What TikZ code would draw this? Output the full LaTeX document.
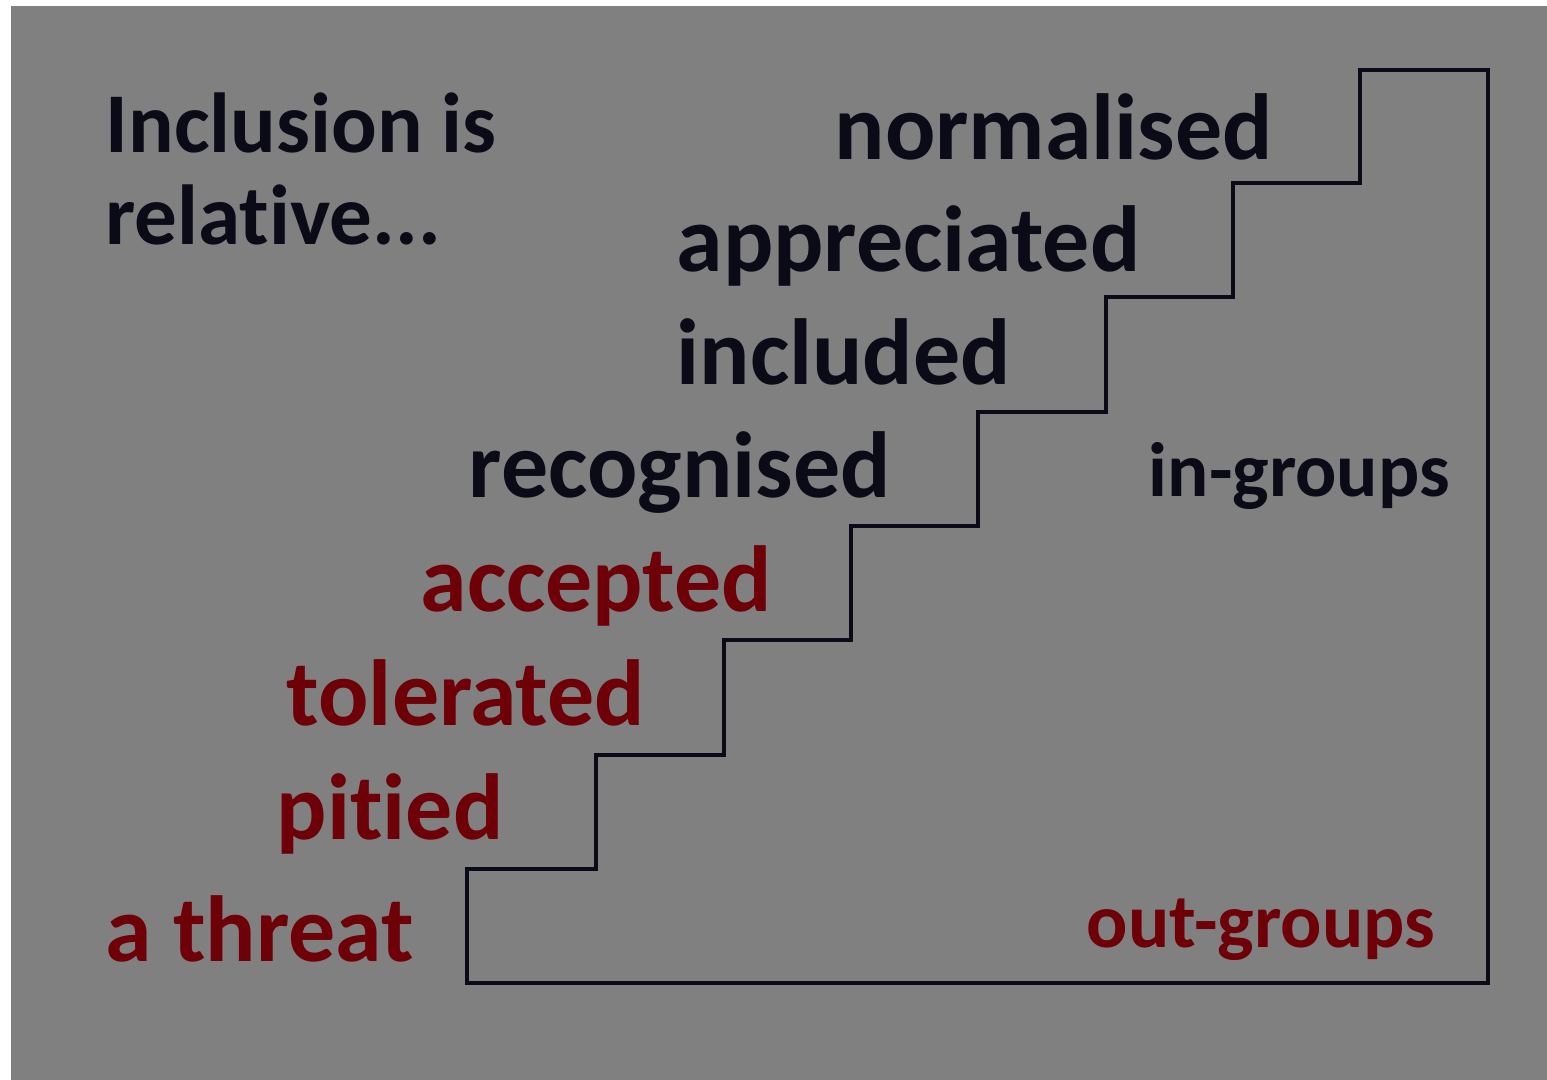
\documentclass[tikz,border=0pt]{standalone}
\usepackage{fontspec}
\setmainfont{Carlito}[Ligatures=NoCommon]
\definecolor{panel}{HTML}{808080}
\definecolor{ink}{HTML}{0B0B18}
\definecolor{outred}{HTML}{6E0008}
\tikzset{
  step label/.style={anchor=base west,inner sep=0pt,font=\fontsize{26.7}{32}\selectfont\bfseries},
  group label/.style={anchor=base west,inner sep=0pt,font=\fontsize{21.9}{26}\selectfont\bfseries},
}
\begin{document}
\begin{tikzpicture}[x=0.01cm,y=-0.01cm]
\useasboundingbox (0,0) rectangle (1547,1080);
\fill[white] (0,0) rectangle (1547,1080);
\fill[panel] (11,6) rectangle (1547,1080);

% the stairs
\coordinate (s0) at (467,983);
\coordinate (s1) at (1488,983);
\coordinate (s2) at (1488,70);
\coordinate (s3) at (1360,70);
\draw[ink,line width=1.1pt,line join=miter]
  (s3) -- (s2) -- (s1) -- (s0) -- (467,869) -- (596,869) -- (596,755)
  -- (724,755) -- (724,640) -- (851,640) -- (851,526) -- (978,526)
  -- (978,412) -- (1106,412) -- (1106,297) -- (1233,297) -- (1233,183)
  -- (1360,183) -- cycle;

% base anchor of a two-line node sits on its last line
\node[anchor=base west,inner sep=0pt,align=left,ink,
  font=\fontsize{24.2}{26.2}\selectfont\bfseries] (title) at (105,245)
  {Inclusion is\\relative...};

\node[step label,ink] (norm) at (834,160) {normalised};
\node[step label,ink] (appr) at (676,272) {appreciated};
\node[step label,ink] (incl) at (676,385) {included};
\node[step label,ink] (reco) at (468,498) {recognised};
\node[step label,outred] (acce) at (420,612) {accepted};
\node[step label,outred] (tole) at (286,726) {tolerated};
\node[step label,outred] (piti) at (276,840) {pitied};
\node[step label,outred] (thre) at (105,962) {a threat};

\node[group label,ink] (ingr) at (1148,497) {in-groups};
\node[group label,outred] (outgr) at (1086,948) {out-groups};

\end{tikzpicture}
\end{document}
